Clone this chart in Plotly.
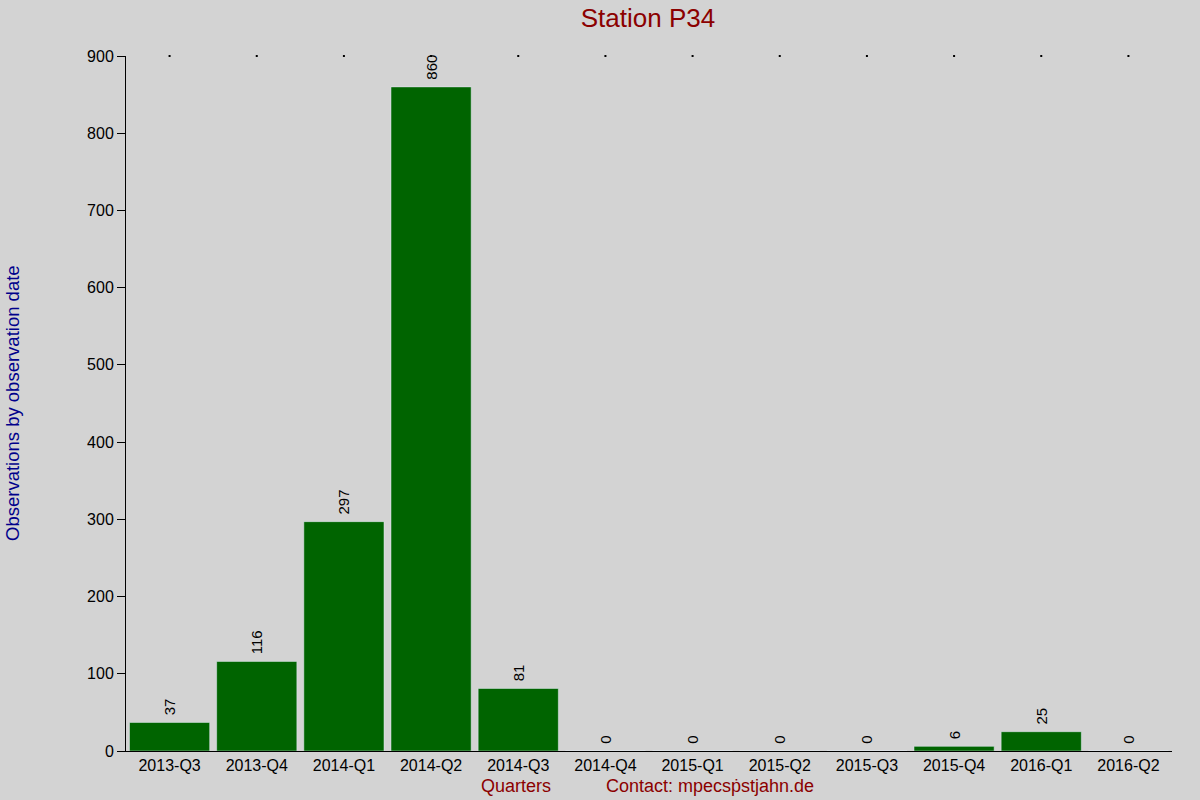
import plotly.graph_objects as go

quarters = ['2013-Q3', '2013-Q4', '2014-Q1', '2014-Q2', '2014-Q3', '2014-Q4',
            '2015-Q1', '2015-Q2', '2015-Q3', '2015-Q4', '2016-Q1', '2016-Q2']
observations = [37, 116, 297, 860, 81, 0, 0, 0, 0, 6, 25, 0]
y_ticks = [0, 100, 200, 300, 400, 500, 600, 700, 800, 900]
y_max = 900

font_family = 'Liberation Sans, Arial, sans-serif'

fig = go.Figure()

# bars with rotated value labels on top (nbsp keeps a small gap above the bar)
fig.add_trace(go.Bar(
    x=quarters,
    y=observations,
    marker_color='#006400',
    text=['\u00a0' + str(v) for v in observations],
    textposition='outside',
    textangle=-90,
    textfont=dict(size=15, color='black', family=font_family),
    cliponaxis=False,
    hoverinfo='x+y',
))

# tiny marks along the top edge
fig.add_trace(go.Scatter(
    x=quarters,
    y=[y_max] * len(quarters),
    mode='markers',
    marker=dict(size=2, color='black', symbol='square'),
    cliponaxis=False,
    hoverinfo='skip',
))

fig.update_layout(
    width=1200,
    height=800,
    paper_bgcolor='#d3d3d3',
    plot_bgcolor='#d3d3d3',
    showlegend=False,
    bargap=0.08,
    margin=dict(l=126, r=28, t=56, b=49),
    font=dict(family=font_family, size=16, color='black'),
    title=dict(
        text='Station P34',
        x=0.54, xanchor='center',
        y=0.978, yanchor='middle',
        font=dict(size=26, color='#8b0000', family=font_family),
    ),
    annotations=[
        dict(text='Quarters', xref='paper', yref='paper', x=0.373, y=-0.0504,
             xanchor='center', yanchor='middle', showarrow=False,
             font=dict(size=18, color='#8b0000')),
        dict(text='Contact: mpecsṗstjahn.de', xref='paper', yref='paper', x=0.558, y=-0.0504,
             xanchor='center', yanchor='middle', showarrow=False,
             font=dict(size=18, color='#8b0000')),
        dict(text='Observations by observation date', xref='paper', yref='paper',
             x=-0.109, y=0.5007, xanchor='center', yanchor='middle',
             textangle=-90, showarrow=False,
             font=dict(size=18.5, color='#00008b')),
    ],
)

fig.update_xaxes(
    range=[-0.5, len(quarters) - 0.5],
    showline=True, linecolor='black', linewidth=1,
    ticks='', showgrid=False, zeroline=False,
    tickfont=dict(size=16),
)
fig.update_yaxes(
    range=[0, y_max],
    tickvals=y_ticks,
    showline=True, linecolor='black', linewidth=1,
    ticks='outside', ticklen=8, tickcolor='black',
    showgrid=False, zeroline=False,
    tickfont=dict(size=16),
)

fig.write_html(
    "out.html",
    config={'displayModeBar': False},
    post_script="document.body.style.margin='0';document.body.style.background='#d3d3d3';",
)
